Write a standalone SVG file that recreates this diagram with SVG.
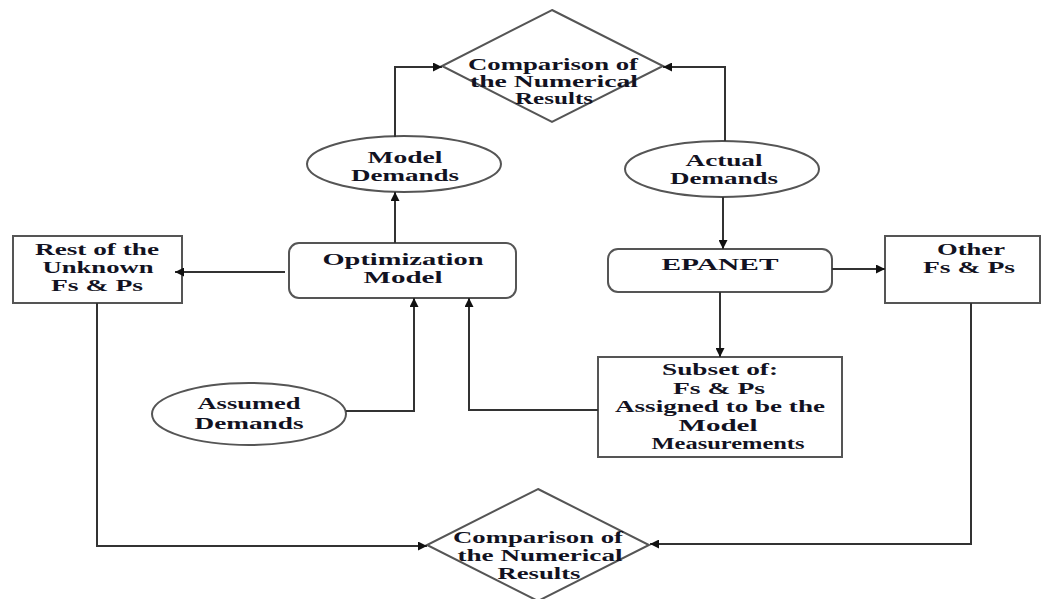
<svg xmlns="http://www.w3.org/2000/svg" width="1045" height="599" viewBox="0 0 1045 599">
<defs>
<marker id="ah" viewBox="0 0 10 10" refX="10" refY="5" markerWidth="11" markerHeight="9" markerUnits="userSpaceOnUse" orient="auto">
<path d="M0,0 L10,5 L0,10 z" fill="#111"/>
</marker>
<style>
.shape{fill:#fff;stroke:#555;stroke-width:2}
.conn{fill:none;stroke:#333;stroke-width:2;marker-end:url(#ah)}
text{font-family:"Liberation Serif","Times New Roman",serif;font-weight:bold;font-size:16.5px;fill:#121222;text-anchor:middle}
</style>
</defs>
<rect width="1045" height="599" fill="#fff"/>
<g id="cmp-top">
<polygon class="shape" points="552,10 663,66 552,122 442,66"/>
<text x="553" y="70" textLength="170" lengthAdjust="spacingAndGlyphs">Comparison of</text>
<text x="554" y="87" textLength="168" lengthAdjust="spacingAndGlyphs">the Numerical</text>
<text x="554" y="104" textLength="78" lengthAdjust="spacingAndGlyphs">Results</text>
</g>
<g id="model-demands">
<ellipse class="shape" cx="404" cy="164" rx="97" ry="28"/>
<text x="405" y="163" textLength="75" lengthAdjust="spacingAndGlyphs">Model</text>
<text x="405" y="181" textLength="108" lengthAdjust="spacingAndGlyphs">Demands</text>
</g>
<g id="actual-demands">
<ellipse class="shape" cx="722" cy="169" rx="97" ry="28"/>
<text x="724" y="166" textLength="77" lengthAdjust="spacingAndGlyphs">Actual</text>
<text x="724" y="184" textLength="108" lengthAdjust="spacingAndGlyphs">Demands</text>
</g>
<g id="rest-unknown">
<rect class="shape" x="13" y="236" width="169" height="67"/>
<text x="97" y="255" textLength="124" lengthAdjust="spacingAndGlyphs">Rest of the</text>
<text x="98" y="273" textLength="111" lengthAdjust="spacingAndGlyphs">Unknown</text>
<text x="97" y="291" textLength="92" lengthAdjust="spacingAndGlyphs">Fs &amp; Ps</text>
</g>
<g id="optimization-model">
<rect class="shape" x="289" y="243" width="227" height="55" rx="10"/>
<text x="403" y="265" textLength="161" lengthAdjust="spacingAndGlyphs">Optimization</text>
<text x="403" y="283" textLength="79" lengthAdjust="spacingAndGlyphs">Model</text>
</g>
<g id="epanet">
<rect class="shape" x="608" y="249" width="224" height="43" rx="10"/>
<text x="720" y="270" textLength="117" lengthAdjust="spacingAndGlyphs">EPANET</text>
</g>
<g id="other">
<rect class="shape" x="885" y="236" width="155" height="67"/>
<text x="971" y="255" textLength="68" lengthAdjust="spacingAndGlyphs">Other</text>
<text x="969" y="273" textLength="92" lengthAdjust="spacingAndGlyphs">Fs &amp; Ps</text>
</g>
<g id="assumed-demands">
<ellipse class="shape" cx="249" cy="414" rx="97" ry="31"/>
<text x="249" y="409" textLength="103" lengthAdjust="spacingAndGlyphs">Assumed</text>
<text x="249" y="429" textLength="109" lengthAdjust="spacingAndGlyphs">Demands</text>
</g>
<g id="subset">
<rect class="shape" x="598" y="357" width="244" height="100"/>
<text x="720" y="375" textLength="116" lengthAdjust="spacingAndGlyphs">Subset of:</text>
<text x="719" y="394" textLength="92" lengthAdjust="spacingAndGlyphs">Fs &amp; Ps</text>
<text x="720" y="412" textLength="210" lengthAdjust="spacingAndGlyphs">Assigned to be the</text>
<text x="718" y="431" textLength="79" lengthAdjust="spacingAndGlyphs">Model</text>
<text x="728" y="449" textLength="153" lengthAdjust="spacingAndGlyphs">Measurements</text>
</g>
<g id="cmp-bottom">
<polygon class="shape" points="538,489 649,545 538,601 427,545"/>
<text x="538" y="543" textLength="170" lengthAdjust="spacingAndGlyphs">Comparison of</text>
<text x="540" y="561" textLength="165" lengthAdjust="spacingAndGlyphs">the Numerical</text>
<text x="539" y="579" textLength="83" lengthAdjust="spacingAndGlyphs">Results</text>
</g>
<g id="connectors">
<path class="conn" d="M395,137 V67 H442"/>
<path class="conn" d="M725,141 V67 H663"/>
<path class="conn" d="M395,243 V192"/>
<path class="conn" d="M285,272 H175"/>
<path class="conn" d="M723,197 V249"/>
<path class="conn" d="M832,269 H885"/>
<path class="conn" d="M720,292 V357"/>
<path class="conn" d="M346,411 H414 V298"/>
<path class="conn" d="M598,410 H469 V298"/>
<path class="conn" d="M97,303 V546 H427"/>
<path class="conn" d="M971,303 V544 H650"/>
</g>
</svg>
